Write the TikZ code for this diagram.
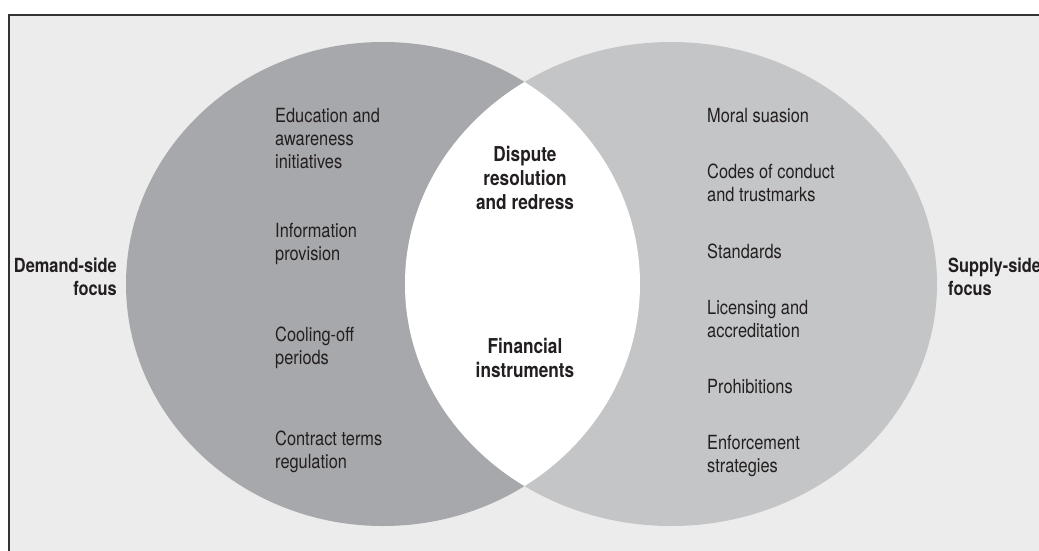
\documentclass[tikz,border=0pt]{standalone}
\usepackage{fontspec}
\setmainfont{TeX Gyre Heros}[FakeStretch=0.84]
\begin{document}
\begin{tikzpicture}[x=1pt,y=-1pt,
  item/.style={anchor=base west,inner sep=0pt,align=left,text=textgray,
    font=\fontsize{19.5}{23}\selectfont},
  key/.style={anchor=base,inner sep=0pt,align=center,text=textgray,
    font=\fontsize{20.5}{24}\selectfont\bfseries},
  side/.style={inner sep=0pt,text=textgray,
    font=\fontsize{19.5}{23}\selectfont\bfseries}]
\definecolor{textgray}{HTML}{231F20}
\definecolor{panel}{HTML}{ECECEC}
\definecolor{demand}{HTML}{A7A8AB}
\definecolor{supply}{HTML}{C4C5C7}
\definecolor{frame}{HTML}{333333}
\useasboundingbox (0,0) rectangle (1039,550);
\clip (0,0) rectangle (1039,550);
% panel with frame
\fill[white] (0,0) rectangle (1039,550);
\draw[frame,line width=2pt,fill=panel] (9,15) rectangle (1060,570);
% the two focus areas
\fill[demand] (383,284) ellipse [x radius=257pt, y radius=242pt];
\fill[supply] (671,284) ellipse [x radius=266pt, y radius=242pt];
% overlap
\begin{scope}
  \clip (383,284) ellipse [x radius=257pt, y radius=242pt];
  \fill[white] (671,284) ellipse [x radius=266pt, y radius=242pt];
\end{scope}
% demand-side measures (positions give the baseline of the last line)
\node[item] (edu) at (275,168) {Education and\\awareness\\initiatives};
\node[item] (info) at (275,260) {Information\\provision};
\node[item] (cool) at (275,364) {Cooling-off\\periods};
\node[item] (contract) at (275,468) {Contract terms\\regulation};
% shared measures
\node[key] (dispute) at (525,209) {Dispute\\resolution\\and redress};
\node[key] (finance) at (525,377) {Financial\\instruments};
% supply-side measures
\node[item] (moral) at (707,122) {Moral suasion};
\node[item] (codes) at (707,201) {Codes of conduct\\and trustmarks};
\node[item] (std) at (707,258) {Standards};
\node[item] (lic) at (707,337) {Licensing and\\accreditation};
\node[item] (prohib) at (707,393) {Prohibitions};
\node[item] (enforce) at (707,472) {Enforcement\\strategies};
% side labels
\node[side,anchor=base east,align=right] (demandfocus) at (117,295) {Demand-side\\focus};
\node[side,anchor=base west,align=left] (supplyfocus) at (948,295) {Supply-side\\focus};
\end{tikzpicture}
\end{document}
